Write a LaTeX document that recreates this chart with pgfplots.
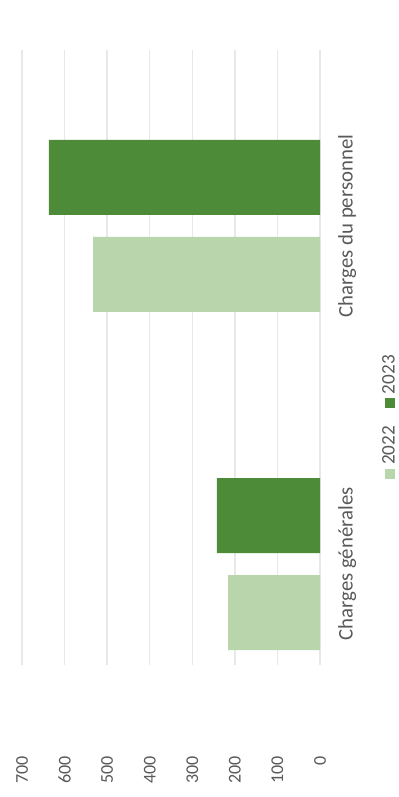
\documentclass[border=0pt]{standalone}
\usepackage{pgfplots}
\pgfplotsset{compat=1.18}
\usepackage{fontspec}
\setmainfont{Carlito}
\usepackage{graphicx}
\definecolor{lightg}{HTML}{B9D5AB}
\definecolor{darkg}{HTML}{4E8B38}
\definecolor{txt}{HTML}{595959}
\begin{document}
\rotatebox{90}{%
\begin{tikzpicture}
\useasboundingbox (-66pt,-39pt) rectangle (332.5pt,160pt);
\begin{axis}[
  at={(0,0)}, anchor=south west,
  scale only axis, width=307.5pt, height=149pt,
  xmin=-0.2988, xmax=1.5207, ymin=0, ymax=700,
  xtick={0,1}, xticklabels={Charges générales, Charges du personnel},
  ytick={0,100,...,700},
  ymajorgrids, grid style={draw=black!9, line width=0.7pt},
  axis line style={draw=none}, major tick length=0pt,
  /pgf/number format/assume math mode=true,
  yticklabel style={font=\fontsize{9}{11}\selectfont, text=txt, xshift=-42pt},
  xticklabel style={font=\fontsize{10.4}{12}\selectfont, text=txt, yshift=-5.5pt},
  legend columns=2,
  legend style={at={(0.4065,-0.2349)}, anchor=center, draw=none, fill=none,
    font=\fontsize{9.6}{11}\selectfont, text=txt,
    /tikz/every even column/.append style={column sep=7pt}},
  legend image code/.code={\fill[#1] (0pt,-2.6pt) rectangle (5pt,2.6pt);},
]
\addplot[ybar, bar width=37.5pt, bar shift=-24.25pt, fill=lightg, draw=none]
  coordinates {(0,216) (1,533)};
\addlegendentry{2022}
\addplot[ybar, bar width=37.5pt, bar shift=24.25pt, fill=darkg, draw=none]
  coordinates {(0,242) (1,637)};
\addlegendentry{2023}
\end{axis}
\end{tikzpicture}}
\end{document}
